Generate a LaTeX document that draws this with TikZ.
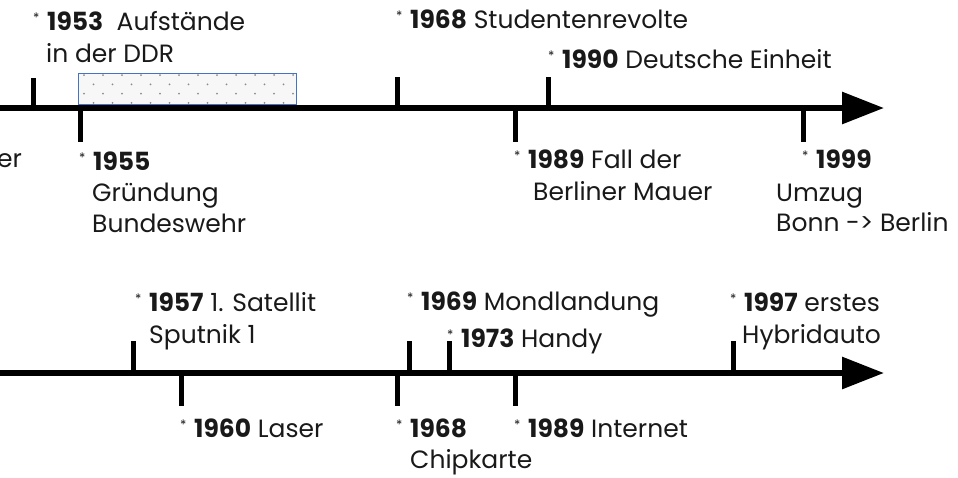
\documentclass[tikz,border=0pt]{standalone}
\usepackage{fontspec}
\setmainfont{Poppins}
\usetikzlibrary{arrows.meta}
\tikzset{
  axis/.style={line width=6pt, -{Triangle[length=42pt,width=31pt]}},
  tick/.style={line width=5pt},
  lbl/.style={anchor=base west, inner sep=0pt, font=\fontsize{25}{32}\selectfont, text=black!90},
  box/.style={draw={rgb,255:red,68;green,114;blue,196}, line width=1pt, fill=black!3},
}
\newcommand{\st}{\makebox[14pt][l]{\fontsize{13}{13}\selectfont\raisebox{1.1ex}{*}}}
\begin{document}
\begin{tikzpicture}[x=1pt,y=-1pt]
\useasboundingbox (0,0) rectangle (958,477);
% ---------- top timeline ----------
\coordinate (a1s) at (-5,108);
\coordinate (a1e) at (884,108);
\node[box, minimum width=218pt, minimum height=31pt, inner sep=0pt, anchor=north west] (rect) at (78,73) {};
\begin{scope}
\clip (rect.south west) rectangle (rect.north east);
\foreach \r in {0,1,2,3}{
  \foreach \c in {0,...,11}{
    \pgfmathsetmacro{\xx}{84+\c*19+mod(\r,2)*9.5}
    \pgfmathsetmacro{\yy}{75+\r*9.3}
    \fill[black!45] (\xx,\yy) circle (1pt);
  }
}
\end{scope}
\draw[axis] (a1s) -- (a1e);
\coordinate (t1) at (33,108); \coordinate (t1u) at (33,78);
\coordinate (t2) at (397,108); \coordinate (t2u) at (397,77);
\coordinate (t3) at (548,108); \coordinate (t3u) at (548,77);
\coordinate (b1) at (80,108); \coordinate (b1d) at (80,142);
\coordinate (b2) at (515,108); \coordinate (b2d) at (515,142);
\coordinate (b3) at (803,108); \coordinate (b3d) at (803,142);
\foreach \p/\q in {t1/t1u,t2/t2u,t3/t3u,b1/b1d,b2/b2d,b3/b3d} \draw[tick] (\p) -- (\q);
\node[lbl] (l1953) at (33,30) {\st\textbf{1953}\ \ Aufstände};
\node[lbl] (l1953b) at (46,62) {in der DDR};
\node[lbl] (l1968a) at (396,28) {\st\textbf{1968} Studentenrevolte};
\node[lbl] (l1990) at (548,68) {\st\textbf{1990} Deutsche Einheit};
\node[lbl] (ler) at (-3,167) {er};
\node[lbl] (l1955) at (79,170) {\st\textbf{1955}};
\node[lbl] (l1955b) at (92,201) {Gründung};
\node[lbl] (l1955c) at (92,232) {Bundeswehr};
\node[lbl] (l1989a) at (514,168) {\st\textbf{1989} Fall der};
\node[lbl] (l1989ab) at (533,200) {Berliner Mauer};
\node[lbl] (l1999) at (802,168) {\st\textbf{1999}};
\node[lbl] (l1999b) at (776,201) {Umzug};
\node[lbl] (l1999c) at (776,231) {Bonn -> Berlin};
% ---------- bottom timeline ----------
\coordinate (a2s) at (-5,373);
\coordinate (a2e) at (884,373);
\draw[axis] (a2s) -- (a2e);
\coordinate (u1) at (133,373); \coordinate (u1u) at (133,341);
\coordinate (u2) at (409,373); \coordinate (u2u) at (409,341);
\coordinate (u3) at (449,373); \coordinate (u3u) at (449,341);
\coordinate (u4) at (733,373); \coordinate (u4u) at (733,341);
\coordinate (d1) at (181,373); \coordinate (d1d) at (181,406);
\coordinate (d2) at (397,373); \coordinate (d2d) at (397,406);
\coordinate (d3) at (515,373); \coordinate (d3d) at (515,406);
\foreach \p/\q in {u1/u1u,u2/u2u,u3/u3u,u4/u4u,d1/d1d,d2/d2d,d3/d3d} \draw[tick] (\p) -- (\q);
\node[lbl] (l1957) at (135,311) {\st\textbf{1957} 1. Satellit};
\node[lbl] (l1957b) at (149,343) {Sputnik 1};
\node[lbl] (l1969) at (407,310) {\st\textbf{1969} Mondlandung};
\node[lbl] (l1973) at (447,347) {\st\textbf{1973} Handy};
\node[lbl] (l1997) at (730,311) {\st\textbf{1997} erstes};
\node[lbl] (l1997b) at (742,343) {Hybridauto};
\node[lbl] (l1960) at (180,437) {\st\textbf{1960} Laser};
\node[lbl] (l1968b) at (396,437) {\st\textbf{1968}};
\node[lbl] (l1968bb) at (410,468) {Chipkarte};
\node[lbl] (l1989b) at (514,437) {\st\textbf{1989} Internet};
\end{tikzpicture}
\end{document}
